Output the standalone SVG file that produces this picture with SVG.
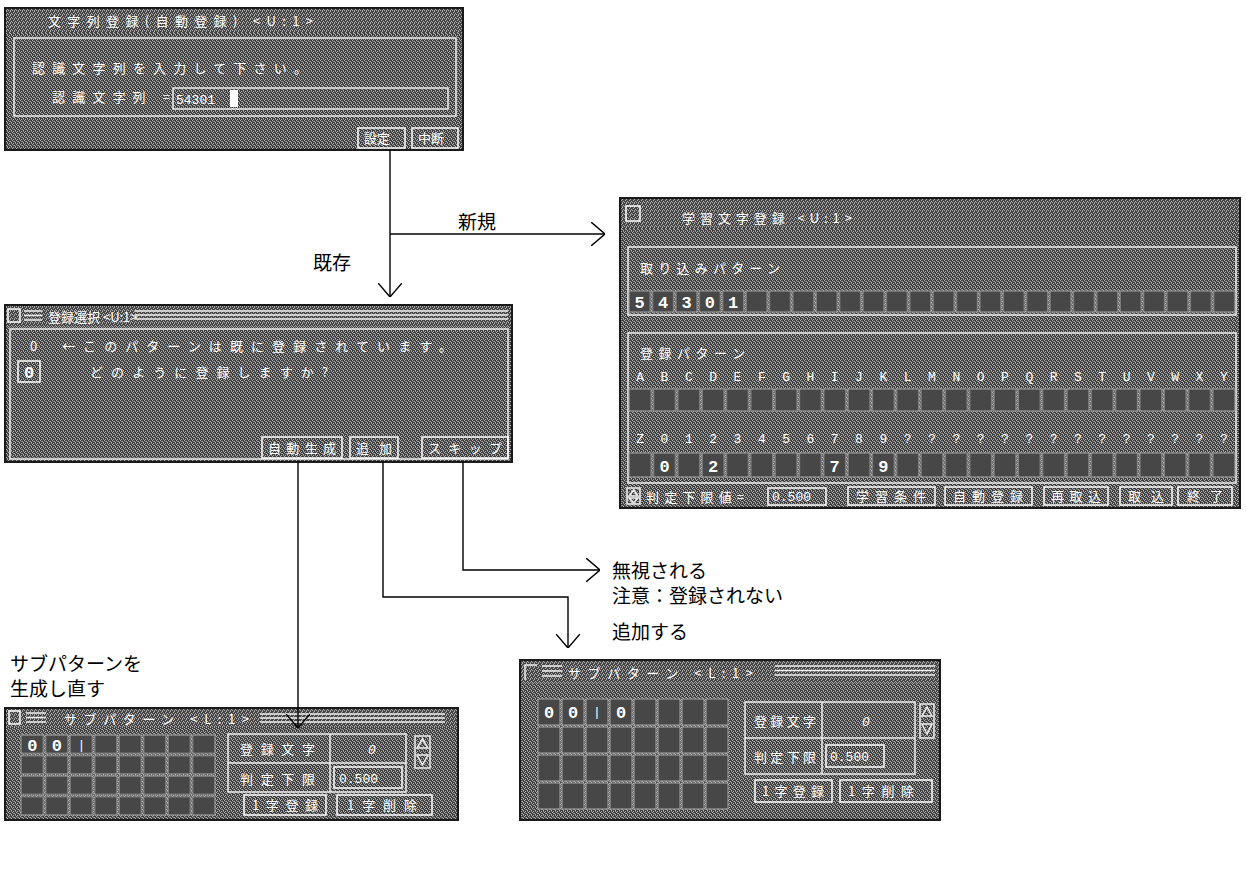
<svg xmlns="http://www.w3.org/2000/svg" width="1246" height="879" viewBox="0 0 1246 879">
<style>
.win{fill:url(#dith);stroke:#1a1a1a;stroke-width:2}
.bar{fill:url(#dith2)}
.ln{stroke:#eeeeee;fill:none;stroke-width:1.5}
.btn{fill:none;stroke:#ffffff;stroke-width:1.5}
.wt{fill:#ffffff;font-family:"Noto Sans CJK JP","Noto Sans",sans-serif;font-size:13px}
.dg{fill:#ffffff;font-family:"Liberation Mono","DejaVu Sans Mono",monospace;font-size:17px;font-weight:bold}
.sm{fill:#ffffff;font-family:"Liberation Mono","DejaVu Sans Mono",monospace;font-size:13px}
.lbl{fill:#000000;font-family:"Noto Sans CJK JP",sans-serif;font-size:19px}
.conn{stroke:#000000;fill:none;stroke-width:1.4}
</style>
<defs>
<pattern id="dith" x="0" y="0" width="4" height="4" patternUnits="userSpaceOnUse">
<rect width="4" height="4" fill="#3e3e3e"/>
<rect x="0" y="0" width="1" height="1" fill="#b4b4b4"/><rect x="2" y="1" width="1" height="1" fill="#b4b4b4"/>
<rect x="3" y="2" width="1" height="1" fill="#b4b4b4"/><rect x="1" y="3" width="1" height="1" fill="#b4b4b4"/>
<rect x="1" y="1" width="1" height="1" fill="#8a8a8a"/><rect x="3" y="3" width="1" height="1" fill="#8a8a8a"/>
</pattern>
<pattern id="dith2" x="0" y="0" width="4" height="4" patternUnits="userSpaceOnUse">
<rect width="4" height="4" fill="#444444"/>
<rect x="1" y="0" width="1" height="1" fill="#b4b4b4"/><rect x="3" y="1" width="1" height="1" fill="#b4b4b4"/>
<rect x="0" y="2" width="1" height="1" fill="#b4b4b4"/><rect x="2" y="3" width="1" height="1" fill="#b4b4b4"/>
<rect x="2" y="2" width="1" height="1" fill="#999999"/>
</pattern>
<marker id="arr" viewBox="0 0 14 24" refX="14" refY="12" markerWidth="14" markerHeight="24" markerUnits="userSpaceOnUse" orient="auto">
<path d="M0,0 L14,12 L0,24" fill="none" stroke="#000" stroke-width="1.4"/>
</marker>
<pattern id="p26" x="628" y="290" width="23.38" height="23" patternUnits="userSpaceOnUse"><rect x="1" y="1" width="21.38" height="21" fill="#474747" stroke="#a8a8a8" stroke-width="1"/></pattern>
<pattern id="p25a" x="628" y="388" width="24.32" height="24" patternUnits="userSpaceOnUse"><rect x="1" y="1" width="22.32" height="22" fill="#474747" stroke="#a8a8a8" stroke-width="1"/></pattern>
<pattern id="p25b" x="628" y="452" width="24.32" height="26" patternUnits="userSpaceOnUse"><rect x="1" y="1" width="22.32" height="24" fill="#474747" stroke="#a8a8a8" stroke-width="1"/></pattern>
<pattern id="pd" x="20" y="734" width="24.5" height="20.5" patternUnits="userSpaceOnUse"><rect x="1" y="1" width="22.5" height="18.5" fill="#474747" stroke="#a8a8a8" stroke-width="1"/></pattern>
<pattern id="pe" x="537" y="698" width="24" height="28" patternUnits="userSpaceOnUse"><rect x="1" y="1" width="22" height="26" fill="#474747" stroke="#a8a8a8" stroke-width="1"/></pattern>
</defs>
<rect width="1246" height="879" fill="#ffffff"/>

<g id="dlg-mojiretsu">
<rect class="win" x="5" y="8" width="458" height="142"/>
<rect class="bar" x="6" y="9" width="456" height="24"/>
<text class="wt" x="48" y="26" textLength="265" lengthAdjust="spacing">文字列登録(自動登録) &lt;U:1&gt;</text>
<rect class="ln" x="14" y="38" width="442" height="78"/>
<text class="wt" x="32" y="73" font-size="15" textLength="275" lengthAdjust="spacing">認識文字列を入力して下さい。</text>
<text class="wt" x="52" y="102" font-size="15" textLength="118" lengthAdjust="spacing">認識文字列 =</text>
<rect class="ln" x="173" y="88" width="275" height="21"/>
<text class="sm" x="176" y="104">54301</text>
<rect x="230" y="90" width="8" height="17" fill="#ffffff"/>
<rect class="btn" x="358" y="128" width="47" height="20"/>
<text class="wt" x="364" y="143">設定</text>
<rect class="btn" x="412" y="128" width="46" height="20"/>
<text class="wt" x="418" y="143">中断</text>
</g>

<g id="dlg-sentaku">
<rect class="win" x="5" y="305" width="507" height="157"/>
<rect class="bar" x="6" y="306" width="505" height="21"/>
<rect class="btn" x="8" y="309" width="12" height="13"/>
<path class="ln" d="M24,311 H42 M24,315.5 H42 M24,320 H42" stroke-width="2"/>
<text class="wt" x="48" y="322">登録選択 &lt;U:1&gt;</text>
<path class="ln" d="M135,311 H508 M135,315 H508 M135,319 H508"/>
<rect class="ln" x="10" y="329" width="498" height="130"/>
<text class="wt" x="30" y="351">0</text>
<text class="wt" x="62" y="351" font-size="14" textLength="390" lengthAdjust="spacing">←このパターンは既に登録されています。</text>
<rect class="btn" x="18" y="361" width="22" height="21"/>
<text class="dg" x="29" y="378" text-anchor="middle">0</text>
<text class="wt" x="90" y="377" font-size="14" textLength="238" lengthAdjust="spacing">どのように登録しますか?</text>
<rect class="btn" x="262" y="437" width="80" height="21"/>
<text class="wt" x="268" y="453" font-size="14" textLength="68" lengthAdjust="spacing">自動生成</text>
<rect class="btn" x="350" y="437" width="48" height="21"/>
<text class="wt" x="356" y="453" font-size="14" textLength="36" lengthAdjust="spacing">追加</text>
<rect class="btn" x="422" y="437" width="86" height="21"/>
<text class="wt" x="428" y="453" font-size="14" textLength="74" lengthAdjust="spacing">スキップ</text>
</g>

<g id="dlg-gakushu">
<rect class="win" x="620" y="198" width="620" height="310"/>
<rect class="bar" x="621" y="199" width="618" height="30"/>
<rect class="btn" x="626" y="206" width="14" height="15"/>
<text class="wt" x="682" y="223" textLength="170" lengthAdjust="spacing">学習文字登録 &lt;U:1&gt;</text>
<rect class="ln" x="628" y="247" width="608" height="68"/>
<text class="wt" x="640" y="273" textLength="140" lengthAdjust="spacing">取り込みパターン</text>
<rect x="628" y="290" width="608" height="23" fill="url(#p26)"/>
<text class="dg" x="639.7 663.1 686.5 709.8 733.2" y="308" text-anchor="middle">54301</text>
<rect class="ln" x="628" y="333" width="608" height="150"/>
<text class="wt" x="640" y="358" textLength="105" lengthAdjust="spacing">登録パターン</text>
<text class="sm" x="640.2 664.5 688.8 713.1 737.4 761.8 786.1 810.4 834.7 859.0 883.4 907.7 932.0 956.3 980.6 1005.0 1029.3 1053.6 1077.9 1102.2 1126.6 1150.9 1175.2 1199.5 1223.8" y="381" text-anchor="middle">ABCDEFGHIJKLMNOPQRSTUVWXY</text>
<rect x="628" y="388" width="608" height="24" fill="url(#p25a)"/>
<text class="sm" x="640.2 664.5 688.8 713.1 737.4 761.8 786.1 810.4 834.7 859.0 883.4 907.7 932.0 956.3 980.6 1005.0 1029.3 1053.6 1077.9 1102.2 1126.6 1150.9 1175.2 1199.5 1223.8" y="443" text-anchor="middle">Z0123456789??????????????</text>
<rect x="628" y="452" width="608" height="26" fill="url(#p25b)"/>
<text class="dg" x="664.5 713.1 834.7 883.4" y="472" text-anchor="middle">0279</text>
<path class="ln" d="M627,488 H640 V504 H627 Z M633.5,490 L629,496 H638 Z M629,498 H638 L633.5,503 Z" stroke-width="1"/>
<text class="wt" x="646" y="502" textLength="98" lengthAdjust="spacing">判定下限値=</text>
<rect class="btn" x="768" y="488" width="58" height="17"/>
<text class="sm" x="772" y="501">0.500</text>
<rect class="btn" x="848" y="487" width="87" height="18"/>
<text class="wt" x="856" y="501" textLength="70" lengthAdjust="spacing">学習条件</text>
<rect class="btn" x="945" y="487" width="87" height="18"/>
<text class="wt" x="953" y="501" textLength="70" lengthAdjust="spacing">自動登録</text>
<rect class="btn" x="1044" y="487" width="64" height="18"/>
<text class="wt" x="1051" y="501" textLength="50" lengthAdjust="spacing">再取込</text>
<rect class="btn" x="1120" y="487" width="52" height="18"/>
<text class="wt" x="1128" y="501" textLength="36" lengthAdjust="spacing">取込</text>
<rect class="btn" x="1178" y="487" width="54" height="18"/>
<text class="wt" x="1187" y="501" textLength="36" lengthAdjust="spacing">終了</text>
</g>

<g id="dlg-sub1">
<rect class="win" x="5" y="708" width="453" height="112"/>
<rect class="bar" x="6" y="709" width="451" height="19"/>
<rect class="btn" x="9" y="711" width="11" height="13"/>
<path class="ln" d="M26,713 H46 M26,717.5 H46 M26,722 H46" stroke-width="2"/>
<text class="wt" x="64" y="724" textLength="185" lengthAdjust="spacing">サブパターン &lt;L:1&gt;</text>
<path class="ln" d="M260,714 H445 M260,718 H445 M260,722 H445"/>
<rect x="20" y="734" width="196" height="82" fill="url(#pd)"/>
<text class="dg" x="32.3" y="751" text-anchor="middle">0</text>
<text class="dg" x="56.8" y="751" text-anchor="middle">0</text>
<text class="sm" x="81.3" y="749" text-anchor="middle" font-size="10">|</text>
<rect class="ln" x="228" y="734" width="178" height="58"/>
<path class="ln" d="M330,734 V792 M228,763 H406"/>
<text class="wt" x="240" y="754" textLength="75" lengthAdjust="spacing">登録文字</text>
<text class="sm" x="368" y="754" font-style="italic">0</text>
<text class="wt" x="240" y="784" textLength="75" lengthAdjust="spacing">判定下限</text>
<rect class="btn" x="334" y="767" width="68" height="21"/>
<text class="sm" x="339" y="783">0.500</text>
<path class="ln" d="M415,736 H430 V768 H415 Z M422.5,739 L417,748 H428 Z M417,755 H428 L422.5,765 Z" stroke-width="1"/>
<rect class="btn" x="244" y="795" width="82" height="20"/>
<text class="wt" x="252" y="810" textLength="66" lengthAdjust="spacing">1字登録</text>
<rect class="btn" x="337" y="795" width="95" height="20"/>
<text class="wt" x="347" y="810" textLength="70" lengthAdjust="spacing">1字削除</text>
</g>

<g id="dlg-sub2">
<rect class="win" x="520" y="660" width="420" height="160"/>
<rect class="bar" x="521" y="661" width="418" height="22"/>
<path class="ln" d="M525,680 V665 H537" stroke-width="1.5"/>
<path class="ln" d="M542,666 H562 M542,671 H562 M542,676 H562" stroke-width="2"/>
<text class="wt" x="568" y="678" textLength="185" lengthAdjust="spacing">サブパターン &lt;L:1&gt;</text>
<path class="ln" d="M775,666 H935 M775,670.5 H935 M775,675 H935"/>
<rect x="537" y="698" width="192" height="112" fill="url(#pe)"/>
<text class="dg" x="549" y="718" text-anchor="middle">0</text>
<text class="dg" x="573" y="718" text-anchor="middle">0</text>
<text class="sm" x="597" y="716" text-anchor="middle" font-size="11">|</text>
<text class="dg" x="621" y="718" text-anchor="middle">0</text>
<rect class="ln" x="745" y="702" width="170" height="72"/>
<path class="ln" d="M822,702 V774 M745,738 H915"/>
<text class="wt" x="754" y="726" textLength="62" lengthAdjust="spacing">登録文字</text>
<text class="sm" x="862" y="726" font-style="italic">0</text>
<text class="wt" x="754" y="762" textLength="62" lengthAdjust="spacing">判定下限</text>
<rect class="btn" x="826" y="745" width="58" height="22"/>
<text class="sm" x="830" y="761">0.500</text>
<path class="ln" d="M920,704 H934 V738 H920 Z M927,707 L922,716 H932 Z M922,724 H932 L927,734 Z" stroke-width="1"/>
<rect class="btn" x="755" y="780" width="77" height="22"/>
<text class="wt" x="762" y="796" textLength="62" lengthAdjust="spacing">1字登録</text>
<rect class="btn" x="840" y="780" width="92" height="22"/>
<text class="wt" x="848" y="796" textLength="66" lengthAdjust="spacing">1字削除</text>
</g>

<g id="connectors">
<path class="conn" d="M390,150 V297" marker-end="url(#arr)"/>
<path class="conn" d="M390,234 H605" marker-end="url(#arr)"/>
<path class="conn" d="M298,462 V728" marker-end="url(#arr)"/>
<path class="conn" d="M383,462 V597 H568 V648" marker-end="url(#arr)"/>
<path class="conn" d="M463,462 V570 H600" marker-end="url(#arr)"/>
</g>

<g id="labels">
<text class="lbl" x="458" y="229" font-size="21">新規</text>
<text class="lbl" x="313" y="270" font-size="21">既存</text>
<text class="lbl" x="612" y="578" font-size="18">無視される</text>
<text class="lbl" x="612" y="603" font-size="18">注意：登録されない</text>
<text class="lbl" x="10" y="671">サブパターンを</text>
<text class="lbl" x="10" y="696">生成し直す</text>
<text class="lbl" x="612" y="639">追加する</text>
</g>
</svg>
